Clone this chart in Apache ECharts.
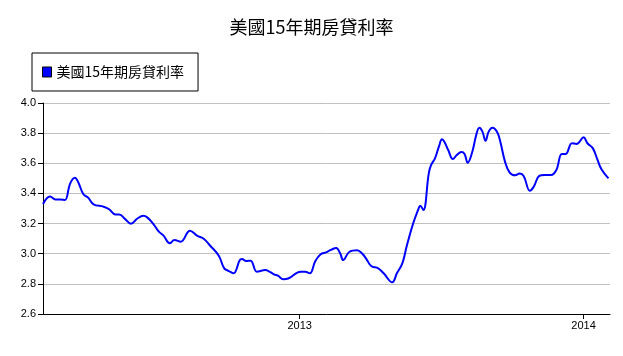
<!DOCTYPE html>
<html>
<head>
<meta charset="utf-8">
<script src="https://cdn.jsdelivr.net/npm/echarts@6/dist/echarts.min.js"></script>
<style>html,body{margin:0;padding:0;background:#fff}#c{width:623px;height:356px}</style>
</head>
<body>
<div id="c"></div>
<script>
var titleText = '美國15年期房貸利率';
var seriesName = '美國15年期房貸利率';
var dates = [
'2012-02-06','2012-02-15','2012-02-22','2012-02-28','2012-03-05','2012-03-12','2012-03-18','2012-03-22','2012-03-29','2012-04-04',
'2012-04-11','2012-04-24','2012-05-01','2012-05-09','2012-05-14','2012-05-22','2012-05-29','2012-06-06','2012-06-14','2012-06-19',
'2012-06-27','2012-07-04','2012-07-10','2012-07-18','2012-07-24','2012-08-01','2012-08-13','2012-08-22','2012-08-31','2012-09-08',
'2012-09-19','2012-09-26','2012-10-02','2012-10-08','2012-10-16','2012-10-19','2012-10-24','2012-10-30','2012-11-07','2012-11-18',
'2012-11-22','2012-11-29','2012-12-04','2012-12-11','2012-12-18','2013-01-02','2013-01-08','2013-01-14','2013-01-21','2013-01-28',
'2013-02-04','2013-02-10','2013-02-17','2013-02-22','2013-02-26','2013-03-06','2013-03-16','2013-03-22','2013-03-28','2013-04-03',
'2013-04-12','2013-04-19','2013-04-30','2013-05-06','2013-05-13','2013-05-19','2013-05-27','2013-06-03','2013-06-05','2013-06-09',
'2013-06-16','2013-06-19','2013-06-24','2013-06-29','2013-07-03','2013-07-06','2013-07-11','2013-07-17','2013-07-22','2013-07-28',
'2013-08-01','2013-08-05','2013-08-11','2013-08-16','2013-08-20','2013-08-24','2013-08-28','2013-09-01','2013-09-06','2013-09-12',
'2013-09-16','2013-09-22','2013-09-28','2013-10-05','2013-10-11','2013-10-16','2013-10-24','2013-10-29','2013-11-05','2013-11-12',
'2013-11-20','2013-11-27','2013-12-04','2013-12-09','2013-12-17','2013-12-23','2014-01-01','2014-01-06','2014-01-13','2014-01-19',
'2014-01-24','2014-02-02'
];
var rates = [
3.33,3.38,3.36,3.36,3.356,3.467,3.504,3.478,3.394,3.372,
3.328,3.312,3.295,3.261,3.261,3.228,3.199,3.232,3.252,3.241,
3.197,3.146,3.120,3.069,3.091,3.080,3.153,3.120,3.098,3.053,
2.987,2.903,2.885,2.870,2.958,2.965,2.952,2.954,2.881,2.892,
2.885,2.863,2.854,2.830,2.837,2.881,2.881,2.870,2.950,2.996,
3.009,3.025,3.038,3.003,2.958,3.013,3.023,3.003,2.963,2.918,
2.903,2.870,2.810,2.870,2.936,3.058,3.202,3.301,3.319,3.290,
3.533,3.589,3.633,3.710,3.759,3.743,3.688,3.628,3.655,3.675,
3.662,3.604,3.677,3.788,3.836,3.810,3.750,3.810,3.836,3.806,
3.743,3.611,3.538,3.520,3.533,3.516,3.418,3.445,3.516,3.522,
3.522,3.555,3.662,3.662,3.733,3.728,3.772,3.733,3.699,3.622,
3.560,3.500
];
var xMin = '2012-02-06';
var xMax = '2014-02-04';
var yMin = 2.6, yMax = 4.0, yStep = 0.2;

var seriesData = dates.map(function (d, i) { return [d, rates[i]]; });
var DAY = 24 * 3600 * 1000;
var chart = echarts.init(document.getElementById('c'), null, {renderer: 'canvas'});
chart.setOption({
  animation: false,
  backgroundColor: '#fff',
  title: {
    text: titleText,
    left: 'center',
    top: 13,
    textStyle: {fontFamily: 'Noto Sans CJK TC', fontSize: 18, fontWeight: 'normal', color: '#000'}
  },
  legend: {
    left: 32, top: 53,
    orient: 'horizontal',
    padding: [12, 14, 12, 10],
    borderColor: '#000', borderWidth: 1,
    itemWidth: 9, itemHeight: 10, itemGap: 5,
    icon: 'rect',
    itemStyle: {color: '#0000ff', borderColor: '#000', borderWidth: 1},
    textStyle: {fontFamily: 'Noto Sans CJK TC', fontSize: 14, color: '#000', padding: [0,0,0,0]},
    data: [seriesName]
  },
  grid: {left: 43, right: 13, top: 103, bottom: 42, containLabel: false},
  xAxis: {
    type: 'time',
    min: xMin, max: xMax,
    minInterval: 360 * DAY, maxInterval: 370 * DAY,
    axisLine: {lineStyle: {color: '#000', width: 1}},
    axisTick: {show: true, length: 5, lineStyle: {color: '#000'}},
    splitLine: {show: false},
    axisLabel: {
      formatter: '{yyyy}', fontFamily: 'Liberation Sans', fontSize: 11, color: '#000', margin: 6,
      showMinLabel: false, showMaxLabel: false
    }
  },
  yAxis: {
    type: 'value',
    min: yMin, max: yMax, interval: yStep,
    axisLine: {show: true, lineStyle: {color: '#000', width: 1}},
    axisTick: {show: true, length: 5, lineStyle: {color: '#000'}},
    splitLine: {show: true, lineStyle: {color: '#c0c0c0', width: 1}},
    axisLabel: {
      formatter: function (v) { return v.toFixed(1); },
      fontFamily: 'Liberation Sans', fontSize: 11, color: '#000', margin: 7
    }
  },
  series: [{
    name: seriesName,
    type: 'line',
    data: seriesData,
    smooth: 0.4,
    showSymbol: false,
    symbol: 'none',
    lineStyle: {color: '#0000ff', width: 2},
    itemStyle: {color: '#0000ff'}
  }]
});
</script>
</body>
</html>
